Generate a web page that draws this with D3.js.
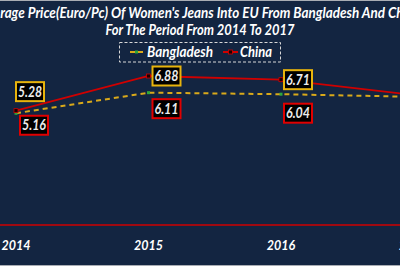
<!DOCTYPE html>
<html>
<head>
<meta charset="utf-8">
<script src="https://cdn.jsdelivr.net/npm/d3@7"></script>
<style>
  html, body { margin: 0; padding: 0; background: #132541; }
  svg { display: block; }
  text { font-family: Lato, "Open Sans", sans-serif; font-style: italic; font-weight: bold; }
</style>
</head>
<body>
<svg id="chart"></svg>
<script>
// data
const years = ["2014", "2015", "2016", "2017"];
const bangladesh = [5.16, 6.11, 6.04, 5.92];
const china = [5.28, 6.88, 6.71, 6.01];
const titleLines = [
  "Average Price(Euro/Pc) Of Women's Jeans Into EU From Bangladesh And China",
  "For The Period From 2014 To 2017"
];
// label nudges (px) relative to the point, the way they sit in the original
const chinaLabelShift = [[14, -19], [18, 0], [17, 0]];
const bdLabelShift = [[18, 12], [18, 16], [17, 19]];

const width = 400, height = 266;
const bg = "#132541";
const red = "#d00000", gold = "#d9a91a", green = "#2fa83a";

const svg = d3.select("#chart")
  .attr("width", width)
  .attr("height", height)
  .attr("viewBox", [0, 0, width, height]);

svg.append("rect").attr("width", width).attr("height", height).attr("fill", bg);
// thin grey frame edges seen at top and bottom
svg.append("line").attr("x1", 0).attr("x2", width).attr("y1", 0.5).attr("y2", 0.5)
  .attr("stroke", "#a9adb4").attr("stroke-width", 1);
svg.append("line").attr("x1", 0).attr("x2", width).attr("y1", 265.5).attr("y2", 265.5)
  .attr("stroke", "#a9adb4").attr("stroke-width", 1);

// scales: plot is wider than the window, 2017 falls off the right edge
const x = d3.scalePoint().domain(years).range([16, 413.5]);
const y = d3.scaleLinear().domain([0, 6.88]).range([225, 76]);

// title
svg.append("text").attr("x", 200).attr("y", 18).attr("text-anchor", "middle")
  .attr("fill", "#fff").attr("font-size", 14.5)
  .attr("textLength", 442).attr("lengthAdjust", "spacingAndGlyphs")
  .text(titleLines[0]);
svg.append("text").attr("x", 200).attr("y", 35).attr("text-anchor", "middle")
  .attr("fill", "#fff").attr("font-size", 14.5)
  .attr("textLength", 189).attr("lengthAdjust", "spacingAndGlyphs")
  .text(titleLines[1]);

// legend
const lg = svg.append("g");
lg.append("rect").attr("x", 119.5).attr("y", 42.5).attr("width", 161).attr("height", 19.5)
  .attr("fill", "none").attr("stroke", "#d8d8d8").attr("stroke-width", 1).attr("stroke-dasharray", "3,2");
lg.append("line").attr("x1", 130).attr("x2", 143).attr("y1", 52).attr("y2", 52)
  .attr("stroke", gold).attr("stroke-width", 2);
lg.append("rect").attr("x", 135).attr("y", 50.5).attr("width", 3).attr("height", 3).attr("fill", green);
lg.append("text").attr("x", 147).attr("y", 57).attr("fill", "#fff").attr("font-size", 14.5)
  .attr("textLength", 66).attr("lengthAdjust", "spacingAndGlyphs").text("Bangladesh");
lg.append("line").attr("x1", 223).attr("x2", 238).attr("y1", 52).attr("y2", 52)
  .attr("stroke", red).attr("stroke-width", 2);
lg.append("rect").attr("x", 228.5).attr("y", 50).attr("width", 4).attr("height", 4)
  .attr("fill", "#1a0000").attr("stroke", red).attr("stroke-width", 0.8);
lg.append("text").attr("x", 240).attr("y", 57).attr("fill", "#fff").attr("font-size", 14.5)
  .attr("textLength", 32).attr("lengthAdjust", "spacingAndGlyphs").text("China");

// x axis line + ticks
svg.append("line").attr("x1", 0).attr("x2", width).attr("y1", y(0)).attr("y2", y(0))
  .attr("stroke", red).attr("stroke-width", 1.5);
svg.append("g").selectAll("text").data(years).join("text")
  .attr("x", d => x(d)).attr("y", 250).attr("text-anchor", "middle")
  .attr("fill", "#fff").attr("font-size", 12.5)
  .text(d => d);

const line = d3.line().x((d, i) => x(years[i])).y(d => y(d));

svg.append("path").datum(bangladesh).attr("d", line)
  .attr("fill", "none").attr("stroke", gold).attr("stroke-width", 2).attr("stroke-dasharray", "5,4");
svg.append("path").datum(china).attr("d", line)
  .attr("fill", "none").attr("stroke", red).attr("stroke-width", 1.8);

svg.append("g").selectAll("rect").data(bangladesh).join("rect")
  .attr("x", (d, i) => x(years[i]) - 1.5).attr("y", d => y(d) - 1.5)
  .attr("width", 3).attr("height", 3).attr("fill", green);
svg.append("g").selectAll("rect").data(china).join("rect")
  .attr("x", (d, i) => x(years[i]) - 2).attr("y", d => y(d) - 2)
  .attr("width", 4).attr("height", 4).attr("fill", "#1a0000")
  .attr("stroke", red).attr("stroke-width", 0.8);

// data labels
function labels(values, shifts, border) {
  const g = svg.append("g").selectAll("g").data(values.slice(0, 3)).join("g")
    .attr("transform", (d, i) => `translate(${x(years[i]) + shifts[i][0]},${y(d) + shifts[i][1]})`);
  g.append("rect").attr("x", -14).attr("y", -9.5).attr("width", 28).attr("height", 19)
    .attr("fill", "#000").attr("stroke", border).attr("stroke-width", 2);
  g.append("text").attr("text-anchor", "middle").attr("y", 5).attr("fill", "#ececec")
    .attr("font-size", 14.5).attr("font-weight", 600)
    .attr("textLength", 24).attr("lengthAdjust", "spacingAndGlyphs")
    .text(d => d.toFixed(2));
}
labels(china, chinaLabelShift, "#e8b40c");
labels(bangladesh, bdLabelShift, "#e00000");
</script>
</body>
</html>
